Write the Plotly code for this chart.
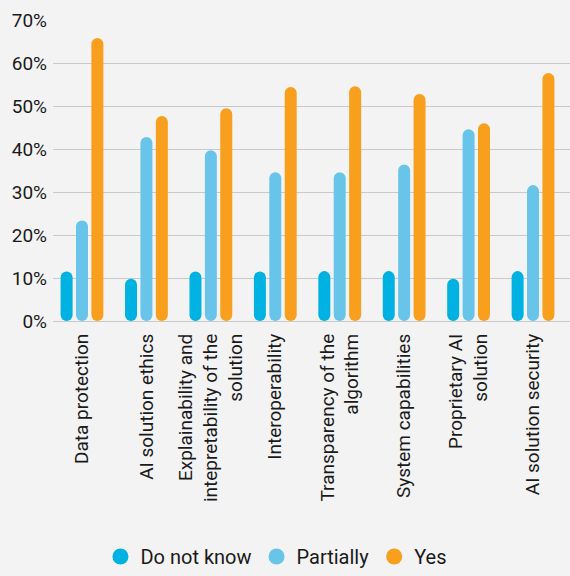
import plotly.graph_objects as go

categories = [
    "Data protection",
    "AI solution ethics",
    "Explainability and<br>intepretability of the<br>solution",
    "Interoperability",
    "Transparency of the<br>algorithm",
    "System capabilities",
    "Proprietary AI<br>solution",
    "AI solution security",
]
series_names = ["Do not know", "Partially", "Yes"]
do_not_know = [11.5, 9.8, 11.5, 11.5, 11.6, 11.6, 9.8, 11.6]
partially = [23.4, 42.8, 39.7, 34.6, 34.6, 36.4, 44.6, 31.6]
yes = [65.8, 47.7, 49.5, 54.4, 54.6, 52.8, 46.0, 57.7]
colors = ["#00b2e1", "#68c5e9", "#f99f1e"]

series = [do_not_know, partially, yes]

# layout geometry
W, H = 570, 576
M_L, M_R, M_T, M_B = 53, 0, 20, 255
Y_MAX = 70
X_RANGE = [-0.45, 7.574]
plot_w = W - M_L - M_R
px_per_x = plot_w / (X_RANGE[1] - X_RANGE[0])

bar_px = 12                      # bar thickness in pixels
bar_w = bar_px / px_per_x        # same thickness in x units
step = 15.4 / px_per_x           # distance between bars inside a group

fig = go.Figure()
for k, (name, vals, col) in enumerate(zip(series_names, series, colors)):
    xs = [i + (k - 1) * step for i in range(len(categories))]
    # pill-shaped bar from zero up to the value
    fig.add_trace(go.Bar(
        x=xs, y=vals, base=[0] * len(vals),
        width=bar_w, opacity=1,
        marker=dict(color=col, line=dict(width=0), cornerradius=bar_px / 2),
        name=name, showlegend=False,
        hovertemplate="%{y}%<extra>" + name + "</extra>",
    ))
    # legend entry with circular swatch
    fig.add_trace(go.Scatter(
        x=[None], y=[None], mode="markers", name=name,
        marker=dict(color=col, size=17, line=dict(width=0)),
    ))

fig.update_layout(
    width=W, height=H,
    margin=dict(l=M_L, r=M_R, t=M_T, b=M_B),
    paper_bgcolor="#f3f3f3", plot_bgcolor="#f3f3f3",
    barmode="overlay",
    font=dict(family="Roboto", size=19, color="#1a1a1a"),
    showlegend=True,
    legend=dict(
        orientation="h", xref="container", yref="container",
        x=0.485, xanchor="center", y=-0.02, yanchor="bottom",
        font=dict(size=20), itemwidth=30, tracegroupgap=0,
        bgcolor="rgba(0,0,0,0)",
    ),
)
fig.update_xaxes(
    range=X_RANGE, tickmode="array",
    tickvals=list(range(len(categories))), ticktext=categories,
    tickangle=-90, showgrid=False, zeroline=False, showline=False,
    ticks="", ticklabelstandoff=8, tickfont=dict(size=19),
)
fig.update_yaxes(
    range=[0, Y_MAX], dtick=10, ticksuffix="%",
    showgrid=True, gridcolor="#c9c9c9", gridwidth=1,
    zeroline=True, zerolinecolor="#c9c9c9", zerolinewidth=1,
    showline=False, ticks="", ticklabelstandoff=5,
    tickfont=dict(size=19),
)

fig.write_html("out.html")
